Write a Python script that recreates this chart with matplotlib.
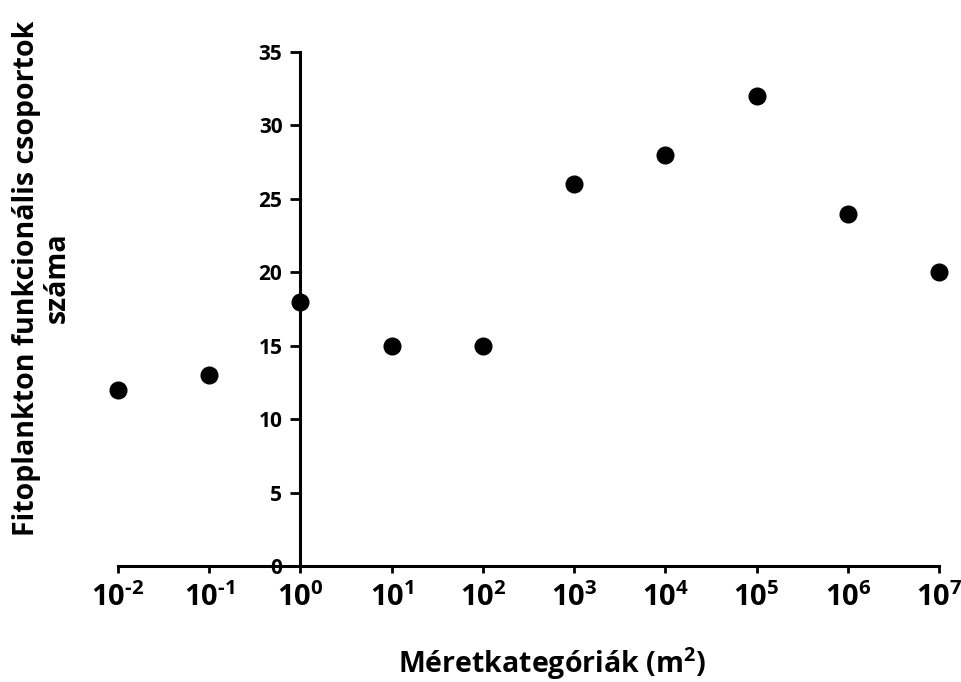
import matplotlib
matplotlib.use('Agg')
import matplotlib.pyplot as plt

# méretkategóriák (m2) és a funkcionális csoportok száma
exponents = [-2, -1, 0, 1, 2, 3, 4, 5, 6, 7]
sizes = [10.0 ** e for e in exponents]
groups = [12, 13, 18, 15, 15, 26, 28, 32, 24, 20]
y_ticks = [0, 5, 10, 15, 20, 25, 30, 35]

plt.rcParams['font.family'] = ['Open Sans', 'DejaVu Sans']
plt.rcParams['font.weight'] = 'bold'
plt.rcParams['mathtext.fontset'] = 'custom'
plt.rcParams['mathtext.rm'] = 'Open Sans:bold'
plt.rcParams['mathtext.bf'] = 'Open Sans:bold'
plt.rcParams['mathtext.it'] = 'Open Sans:bold'

fig = plt.figure(figsize=(9.62, 6.82), dpi=100)
ax = fig.add_axes([118 / 962, 1 - 566 / 682, (939 - 118) / 962, (566 - 52) / 682])

ax.plot(sizes, groups, 'o', color='black', markersize=12, clip_on=False)

ax.set_xscale('log')
ax.set_xlim(1e-2, 1e7)
ax.set_ylim(0, 35)

ax.spines['top'].set_visible(False)
ax.spines['right'].set_visible(False)
ax.spines['left'].set_position(('data', 1))
for s in ('left', 'bottom'):
    ax.spines[s].set_linewidth(2.2)

ax.set_xticks(sizes)
ax.set_xticklabels([r'$\mathbf{10^{\text{%d}}}$' % e for e in exponents])
ax.xaxis.set_minor_locator(matplotlib.ticker.NullLocator())
ax.set_yticks(y_ticks)
ax.set_yticklabels([str(v) for v in y_ticks])

ax.tick_params(axis='x', direction='out', length=5, width=2, labelsize=21, pad=7)
ax.tick_params(axis='y', direction='out', length=7, width=2, labelsize=15, pad=6)
for lab in ax.get_yticklabels():
    lab.set_fontweight('bold')

fig.text(552 / 962, 1 - 664 / 682, 'Méretkategóriák (m$^{\\mathbf{2}}$)',
         ha='center', va='center', fontsize=20.5, fontweight='bold')
fig.text(42 / 962, 1 - 278 / 682, 'Fitoplankton funkcionális csoportok\nszáma',
         ha='center', va='center', rotation=90, fontsize=20.5, fontweight='bold',
         linespacing=1.1)

fig.savefig('out.png', dpi=100)
